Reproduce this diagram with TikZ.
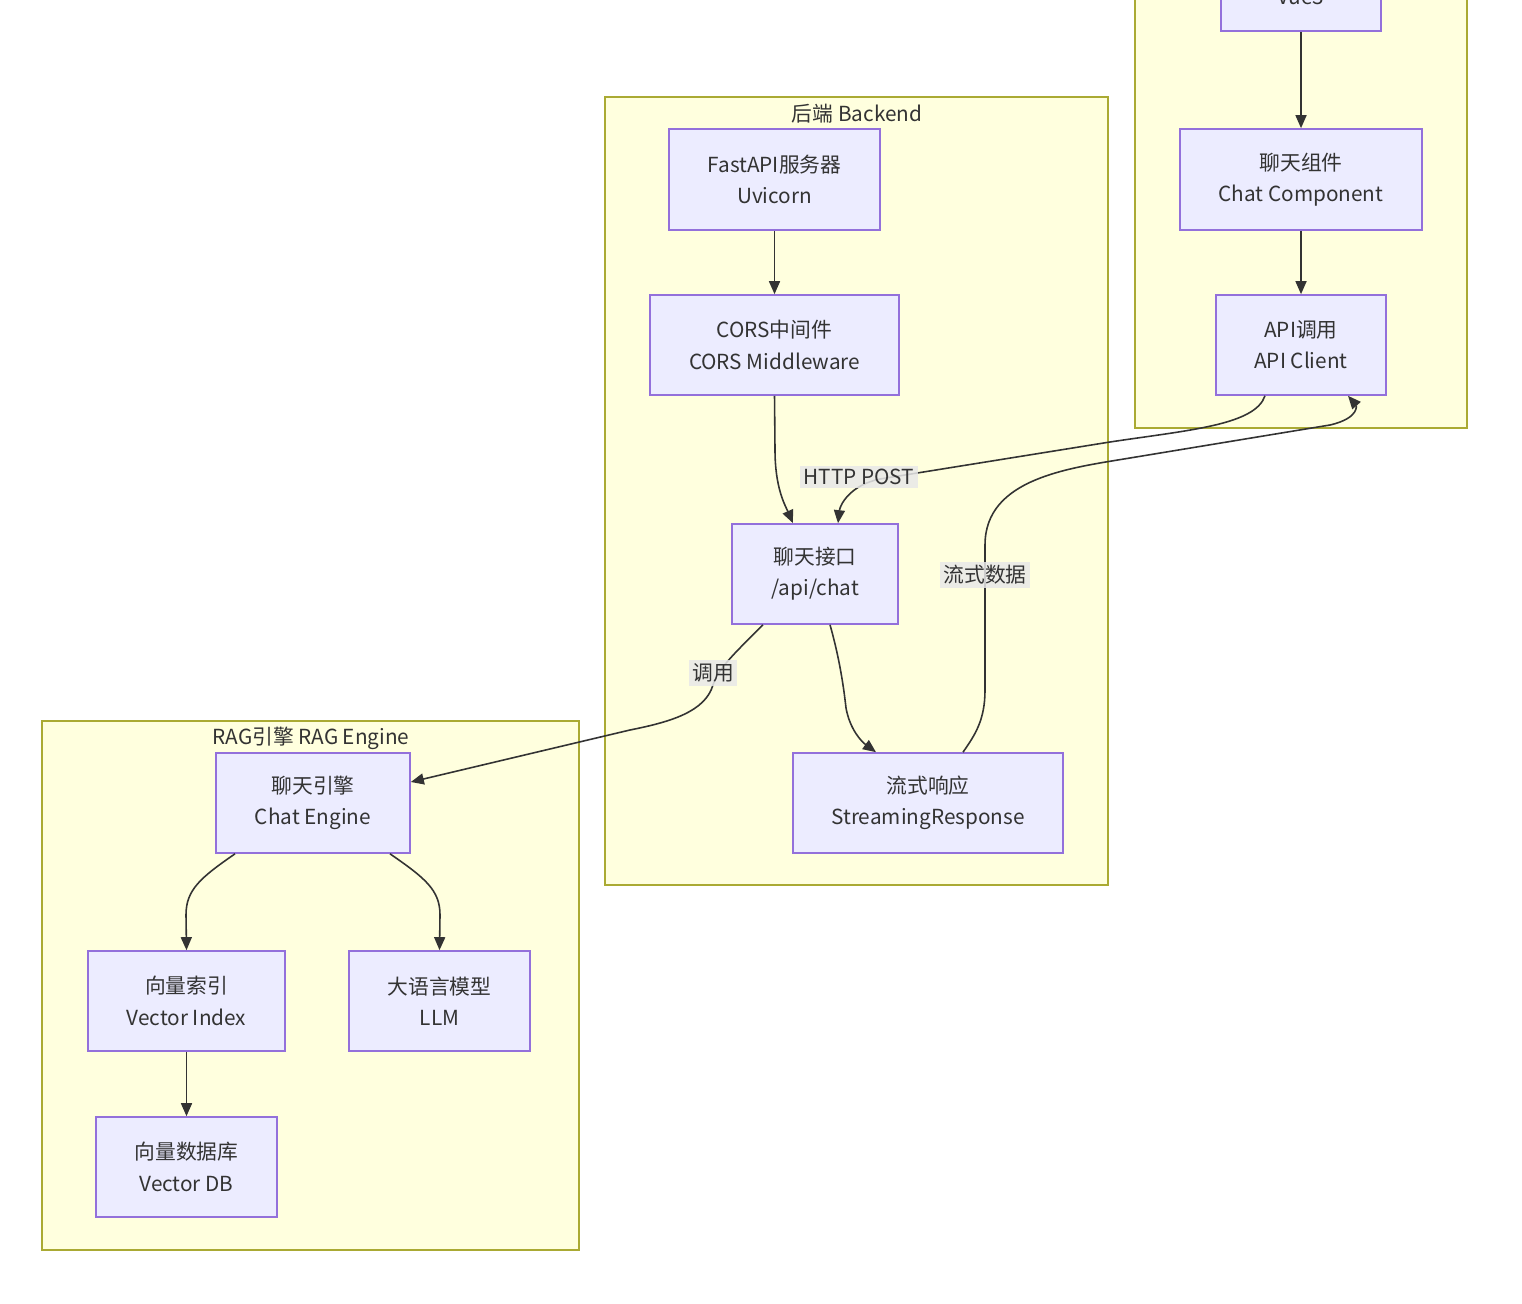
\documentclass[tikz,border=0pt]{standalone}
\usepackage{fontspec}
\setmainfont{Noto Sans CJK SC}
\usepackage{xcolor}
\usepackage{tikz}
\usetikzlibrary{shapes,arrows,arrows.meta,calc}
\definecolor{nodeFill}{HTML}{ECECFF}
\definecolor{nodeLine}{HTML}{9370DB}
\definecolor{grpFill}{HTML}{FFFFDE}
\definecolor{grpLine}{HTML}{AAAA33}
\definecolor{edgeLine}{HTML}{333333}
\definecolor{lblFill}{HTML}{E8E8E8}
\tikzstyle{tsText} = [
    text=edgeLine,
    font=\fontsize{5.9pt}{8.9pt}\selectfont
]
\tikzstyle{tsBox} = [
    rectangle,
    tsText,
    align=center,
    draw=nodeLine,
    fill=nodeFill,
    line width=0.45pt,
    minimum height=1cm,
    inner sep=0pt]
\tikzstyle{tsGroup} = [
    rectangle,
    draw=grpLine,
    fill=grpFill,
    line width=0.45pt,
    inner sep=0pt]
\tikzstyle{tsEdge} = [
    draw=edgeLine,
    line width=0.45pt,
    -{Triangle[length=0.13cm,width=0.11cm]}]
\tikzstyle{tsLabel} = [
    tsText,
    fill=lblFill,
    fill opacity=0.85,
    text opacity=1,
    inner sep=1pt]

\begin{document}
\begin{tikzpicture}[x=0.01cm, y=-0.01cm]

        \useasboundingbox (0,0) rectangle (1522,1304);
        \clip (0,0) rectangle (1522,1304);
        \fill[white] (0,0) rectangle (1522,1304);

        % groups
        \node[tsGroup, minimum width=3.32cm, minimum height=5.08cm] (front) at (1301,174) { };
        \node[tsGroup, minimum width=5.03cm, minimum height=7.88cm] (backend) at (856.5,491) { };
        \node[tsGroup, minimum width=5.37cm, minimum height=5.29cm] (rag) at (310.5,985.5) { };

        \node[tsText] (backendTitle) at (857,114) {后端 Backend};
        \node[tsText] (ragTitle) at (311,738) {RAG引擎 RAG Engine};

        % boxes
        \node[tsBox, minimum width=1.6cm, minimum height=0.68cm] (vue) at (1301,-3) {Vue3};
        \node[tsBox, minimum width=2.42cm, minimum height=1.01cm] (comp) at (1301,179.5) {聊天组件\\Chat Component};
        \node[tsBox, minimum width=1.7cm] (apic) at (1301,345) {API调用\\API Client};

        \node[tsBox, minimum width=2.11cm, minimum height=1.01cm] (fast) at (774.5,179.5) {FastAPI服务器\\Uvicorn};
        \node[tsBox, minimum width=2.49cm] (cors) at (774.5,345) {CORS中间件\\CORS Middleware};
        \node[tsBox, minimum width=1.66cm] (chat) at (815,574) {聊天接口\\/api/chat};
        \node[tsBox, minimum width=2.7cm] (stream) at (928,803) {流式响应\\StreamingResponse};

        \node[tsBox, minimum width=1.94cm] (engine) at (313,803) {聊天引擎\\Chat Engine};
        \node[tsBox, minimum width=1.97cm] (vindex) at (186.5,1001) {向量索引\\Vector Index};
        \node[tsBox, minimum width=1.81cm] (llm) at (439.5,1001) {大语言模型\\LLM};
        \node[tsBox, minimum width=1.81cm] (vdb) at (186.5,1167) {向量数据库\\Vector DB};

        % edges
        \draw[tsEdge] (vue.south) -- (comp.north);
        \draw[tsEdge] (comp.south) -- (apic.north);
        \draw[tsEdge] (fast.south) -- (cors.north);
        \draw[tsEdge] (cors.south) -- (775,450) .. controls (775,488) and (785,505) .. ($(chat.north)+(-22,0)$);

        \draw[tsEdge] ($(apic.south)+(-36,0)$) .. controls (1255,425) and (1190,430) .. (1110,442)
            -- (880,479) .. controls (850,485) and (840,505) .. ($(chat.north)+(23,0)$);

        \draw[tsEdge] ($(stream.north)+(35,0)$) .. controls (975,735) and (985,720) .. (985,690)
            -- (985,545) .. controls (985,478) and (1070,468) .. (1130,458)
            -- (1330,425) .. controls (1360,418) and (1356,405) .. ($(apic.south)+(47,0)$);

        \draw[tsEdge] ($(chat.south)+(-52,0)$) .. controls (738,650) and (718,668) .. (713,685)
            .. controls (705,712) and (670,722) .. (630,730) -- ($(engine.east)+(0,-21)$);

        \draw[tsEdge] ($(chat.south)+(15,0)$) .. controls (840,660) and (844,690) .. (846,708)
            .. controls (850,730) and (862,742) .. ($(stream.north)+(-52,0)$);

        \draw[tsEdge] ($(engine.south)+(-78,0)$) .. controls (200,878) and (186,890) .. (186,915) -- (vindex.north);
        \draw[tsEdge] ($(engine.south)+(77,0)$) .. controls (425,878) and (440,890) .. (440,915) -- (llm.north);
        \draw[tsEdge] (vindex.south) -- (vdb.north);

        % edge labels
        \node[tsLabel] (postLbl) at (859,477) {HTTP POST};
        \node[tsLabel] (streamLbl) at (985,575) {流式数据};
        \node[tsLabel] (callLbl) at (713,673) {调用};

\end{tikzpicture}
\end{document}
